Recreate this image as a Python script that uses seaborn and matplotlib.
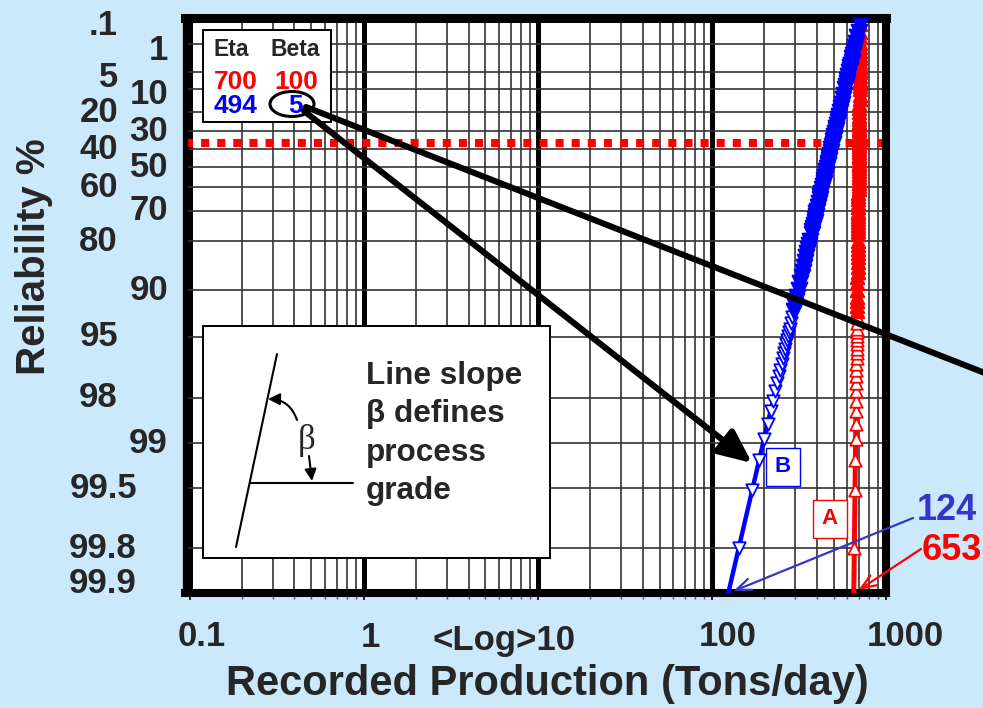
import numpy as np
import pandas as pd
import matplotlib
matplotlib.use("Agg")
import matplotlib.pyplot as plt
import seaborn as sns
from matplotlib.patches import Rectangle, Ellipse, FancyArrowPatch, ArrowStyle
from matplotlib.lines import Line2D
from matplotlib.ticker import FixedLocator, LogLocator, NullFormatter

# ---------------------------------------------------------------- data
process = ["A", "B"]
eta = [700, 494]            # characteristic production (tons/day)
beta = [100, 5]             # Weibull shape
low_end = [653, 124]        # production at 99.9 % reliability

# reliability (%) of each plotted day, shared by both processes
reliability_pct = [99.80, 99.51, 99.23, 98.94, 98.66, 98.37, 98.09, 97.80, 97.52, 97.23,
                   96.95, 96.66, 96.38, 96.09, 95.80, 95.52, 95.23, 94.95, 94.66, 94.38,
                   93.81, 93.24, 92.67, 92.09, 91.52,
                   91, 90, 89, 88, 87, 86, 85, 84, 83, 82, 81, 80,
                   78, 77, 76, 75, 74, 73, 72, 71, 70,
                   68.5, 67, 65.5, 64, 62.5, 61, 59.5, 58, 56.5, 55, 53.5, 52, 50.5, 49,
                   47.5, 46, 44.5, 43, 41.5, 40, 38.5, 37, 35.5, 34, 32.5, 31, 29.5, 28,
                   26.5, 25, 23.5, 22,
                   20, 18, 16, 14, 12,
                   10, 9, 8, 7, 6, 5,
                   4.5, 4, 3.5, 3, 2.5, 2,
                   1.6, 1.2, 0.9, 0.6, 0.4, 0.2]

prod_a = [657.8, 663.8, 666.8, 668.9, 670.5, 671.8, 672.9, 673.9, 674.7, 675.4,
          676.1, 676.7, 677.3, 677.8, 678.3, 678.8, 679.2, 679.6, 680.0, 680.3,
          681.0, 681.6, 682.2, 682.8, 683.2,
          683.7, 684.4, 685.1, 685.8, 686.3, 686.9, 687.4, 687.9, 688.3, 688.8, 689.2, 689.6,
          690.3, 690.7, 691.0, 691.3, 691.6, 692.0, 692.3, 692.5, 692.8,
          693.2, 693.6, 694.0, 694.4, 694.7, 695.1, 695.4, 695.8, 696.1, 696.4, 696.7,
          697.0, 697.3, 697.6,
          697.9, 698.2, 698.5, 698.8, 699.1, 699.4, 699.7, 700.0, 700.2, 700.5, 700.8,
          701.1, 701.4, 701.7,
          702.0, 702.3, 702.6, 702.9,
          703.3, 703.8, 704.3, 704.7, 705.3,
          705.9, 706.2, 706.5, 706.9, 707.3, 707.7,
          708.0, 708.2, 708.5, 708.8, 709.2, 709.6,
          710.0, 710.5, 710.9, 711.5, 712.1, 712.9]

prod_b = [142.6, 170.6, 186.8, 199.2, 208.8, 217.2, 224.3, 230.8, 236.4, 241.8,
          246.6, 251.2, 255.3, 259.4, 263.2, 266.7, 270.1, 273.3, 276.4, 279.4,
          285.0, 290.2, 295.2, 299.9, 304.3,
          308.1, 315.0, 321.4, 327.4, 333.1, 338.4, 343.5, 348.4, 353.0, 357.5, 361.8, 366.0,
          373.9, 377.7, 381.4, 385.1, 388.6, 392.0, 395.4, 398.7, 402.0,
          406.7, 411.4, 415.9, 420.4, 424.8, 429.1, 433.3, 437.5, 441.6, 445.7, 449.8,
          453.8, 457.8, 461.7,
          465.7, 469.6, 473.6, 477.5, 481.5, 485.5, 489.4, 493.4, 497.5, 501.6, 505.7,
          509.9, 514.1, 518.4,
          522.8, 527.4, 532.0, 536.7,
          543.3, 550.3, 557.6, 565.5, 574.1,
          583.7, 589.0, 594.6, 600.7, 607.5, 615.2,
          619.5, 624.1, 629.2, 634.9, 641.4, 648.9,
          656.2, 665.1, 673.5, 684.7, 695.2, 711.9]

grid_pct = [1, 5, 10, 20, 30, 40, 50, 60, 70, 80, 90, 95, 98, 99, 99.5, 99.8]
ylab_left = [".1", "5", "20", "40", "60", "80", "95", "98"]
ylab_left_val = [0.1, 5, 20, 40, 60, 80, 95, 98]
ylab_mid = ["99.5", "99.8", "99.9"]
ylab_mid_val = [99.5, 99.8, 99.9]
ylab_right = ["1", "10", "30", "50", "70", "90", "99"]
ylab_right_val = [1, 10, 30, 50, 70, 90, 99]
x_major = [0.1, 1, 10, 100, 1000]
x_labels = ["0.1", "1", "<Log>10", "100", "1000"]

# ---------------------------------------------------------------- style
W, H = 983, 708
BG = "#cce9fc"
BLUE = "#0000ff"
RED = "#ff0000"
LABEL_BLUE = "#3535c8"
GRID = "#333333"

sns.set_theme(style="white")
plt.rcParams["font.family"] = ["Liberation Sans", "DejaVu Sans"]
plt.rcParams["font.weight"] = "bold"

fig = plt.figure(figsize=(W / 100, H / 100), dpi=100)
fig.patch.set_facecolor(BG)


def fp(x, y):
    """pixel position (from top-left) -> figure fraction"""
    return (x / W, 1 - y / H)


ax_left, ax_right, ax_top, ax_bottom = 185, 886, 17.6, 593.3
ax = fig.add_axes([ax_left / W, 1 - ax_bottom / H,
                   (ax_right - ax_left) / W, (ax_bottom - ax_top) / H])
ax.set_facecolor("white")


# Weibull probability scale for reliability (%)
def weib(p):
    p = np.clip(np.asarray(p, dtype=float), 1e-9, 100 - 1e-9)
    return np.log(-np.log(p / 100.0))


def weib_inv(y):
    return 100.0 * np.exp(-np.exp(np.asarray(y, dtype=float)))


Y_LIM = (0.1, 99.9)
X_LIM = (0.094, 1000)

ax.set_xscale("log")
ax.set_yscale("function", functions=(weib, weib_inv))
ax.set_xlim(*X_LIM)
ax.set_ylim(*Y_LIM)

ax.xaxis.set_major_locator(FixedLocator(x_major))
ax.xaxis.set_minor_locator(LogLocator(base=10, subs=np.arange(2, 10), numticks=50))
ax.xaxis.set_major_formatter(NullFormatter())
ax.xaxis.set_minor_formatter(NullFormatter())
ax.yaxis.set_major_locator(FixedLocator(grid_pct))
ax.yaxis.set_major_formatter(NullFormatter())
ax.yaxis.set_minor_locator(FixedLocator([]))

ax.set_axisbelow(True)
ax.grid(which="major", axis="x", color="black", lw=3.6)
ax.grid(which="minor", axis="x", color=GRID, lw=1.2)
ax.grid(which="major", axis="y", color=GRID, lw=1.2)

ax.tick_params(axis="y", length=0)
ax.tick_params(axis="x", which="major", direction="out", length=5, width=1.2, color="black", bottom=True)
ax.tick_params(axis="x", which="minor", direction="out", length=4, width=1.0, color="#555555", bottom=True)

for side, lw in [("left", 3.8), ("top", 6.5), ("right", 5.8), ("bottom", 5.8)]:
    ax.spines[side].set_visible(True)
    ax.spines[side].set_color("black")
    ax.spines[side].set_linewidth(lw)

# characteristic-life line (63.2 % failed)
ax.axhline(100 * np.exp(-1), color=RED, lw=5.8, dashes=(1, 1),
           dash_capstyle="butt", zorder=1.5)

# ---------------------------------------------------------------- data marks
df = pd.DataFrame({
    "reliability": reliability_pct * 2,
    "production": prod_a + prod_b,
    "process": ["A"] * len(prod_a) + ["B"] * len(prod_b),
})
# where the days pile up the open markers overlap into a solid band
df["crowded"] = df["reliability"] < 93.0

colors = {"A": RED, "B": BLUE}
marks = {"A": "^", "B": "v"}
line_w = {"A": 3.6, "B": 3.2}
dense_size = {"A": 90, "B": 125}

end_pct = [99.9, 0.1]
for name, e, b in zip(process, eta, beta):
    fit_x = [e * (-np.log(p / 100.0)) ** (1.0 / b) for p in end_pct]
    sns.lineplot(x=fit_x, y=end_pct, ax=ax, color=colors[name], lw=line_w[name],
                 sort=False, estimator=None, zorder=3)
    sub = df[df["process"] == name]
    sparse = sub[~sub["crowded"]]
    dense = sub[sub["crowded"]]
    sns.scatterplot(data=sparse, x="production", y="reliability", ax=ax,
                    marker=marks[name], s=80, facecolor="white",
                    edgecolor=colors[name], linewidth=1.3, zorder=4)
    sns.scatterplot(data=dense, x="production", y="reliability", ax=ax,
                    marker=marks[name], s=dense_size[name], facecolor=colors[name],
                    edgecolor=colors[name], linewidth=1.6, zorder=4)

ax.set_xlabel("")
ax.set_ylabel("")
ax.set_xlim(*X_LIM)
ax.set_ylim(*Y_LIM)

# ---------------------------------------------------------------- tick labels
TICK_FS = 25
ytr = ax.get_yaxis_transform()
nudge = {".1": -6, "1": -5, "5": -4, "10": -4, "99.9": 7}
for labs, vals, xr in [(ylab_left, ylab_left_val, 118),
                       (ylab_mid, ylab_mid_val, 137),
                       (ylab_right, ylab_right_val, 168)]:
    for lab, v in zip(labs, vals):
        ax.annotate(lab, xy=((xr - ax_left) / (ax_right - ax_left), v), xycoords=ytr,
                    xytext=(0, nudge.get(lab, 0)), textcoords="offset points",
                    ha="right", va="center", fontsize=TICK_FS, fontweight="bold",
                    annotation_clip=False)

xtr = ax.get_xaxis_transform()
x_shift = [9, 5, 27, 11, 14]
x_drop = [-31, -32, -34, -31, -31]
x_ha = ["center", "center", "right", "center", "center"]
for lab, v, dx, dy, ha in zip(x_labels, x_major, x_shift, x_drop, x_ha):
    ax.annotate(lab, xy=(v, 0), xycoords=xtr, xytext=(dx, dy), textcoords="offset points",
                ha=ha, va="center", fontsize=TICK_FS, fontweight="bold",
                annotation_clip=False)

fig.text(*fp(34, 257), "Reliability %", rotation=90, ha="center", va="center",
         fontsize=29, fontweight="bold")
fig.text(*fp(547, 684), "Recorded Production (Tons/day)", ha="center", va="center",
         fontsize=30, fontweight="bold")

# ---------------------------------------------------------------- parameter box
fig.add_artist(Rectangle(fp(203, 122), 128 / W, 92 / H, transform=fig.transFigure,
                         facecolor="white", edgecolor="black", lw=1.4, zorder=10))
fig.text(*fp(231, 50), "Eta", ha="center", va="center", fontsize=16.5,
         fontweight="bold", zorder=11)
fig.text(*fp(295, 50), "Beta", ha="center", va="center", fontsize=16.5,
         fontweight="bold", zorder=11)
for row_y, i in [(82, 0), (106, 1)]:
    c = RED if process[i] == "A" else BLUE
    fig.text(*fp(236, row_y), str(eta[i]), ha="center", va="center",
             fontsize=19, fontweight="bold", color=c, zorder=11)
    fig.text(*fp(296, row_y), str(beta[i]), ha="center", va="center",
             fontsize=19, fontweight="bold", color=c, zorder=11)
fig.add_artist(Ellipse(fp(292, 104), 44 / W, 25 / H, transform=fig.transFigure,
                       facecolor="none", edgecolor="black", lw=2.2, zorder=12))

# pointer lines from the beta value
fig.add_artist(FancyArrowPatch(fp(306, 107), fp(995, 377), transform=fig.transFigure,
                               arrowstyle="-", lw=4.4, color="black", zorder=20,
                               shrinkA=0, shrinkB=0))
fig.add_artist(FancyArrowPatch(fp(304, 111), fp(752, 463), transform=fig.transFigure,
                               arrowstyle=ArrowStyle("-|>", head_length=20, head_width=9),
                               mutation_scale=1, lw=4.4, color="black", zorder=20,
                               shrinkA=0, shrinkB=0))

# ---------------------------------------------------------------- slope sketch box
fig.add_artist(Rectangle(fp(203, 558), 347 / W, 232 / H, transform=fig.transFigure,
                         facecolor="white", edgecolor="black", lw=1.4, zorder=10))


def seg(p0, p1, lw=1.5):
    fig.add_artist(Line2D([fp(*p0)[0], fp(*p1)[0]], [fp(*p0)[1], fp(*p1)[1]],
                          transform=fig.transFigure, color="black", lw=lw, zorder=11))


seg((277, 354), (236, 547))
seg((250, 483), (353, 483))
fig.add_artist(FancyArrowPatch(fp(297, 420), fp(268, 399), transform=fig.transFigure,
                               connectionstyle="arc3,rad=0.35",
                               arrowstyle=ArrowStyle("-|>", head_length=7, head_width=3.5),
                               mutation_scale=1, lw=1.5, color="black", zorder=11,
                               shrinkA=0, shrinkB=0))
fig.add_artist(FancyArrowPatch(fp(309, 456), fp(312, 481), transform=fig.transFigure,
                               arrowstyle=ArrowStyle("-|>", head_length=7, head_width=3.5),
                               mutation_scale=1, lw=1.5, color="black", zorder=11,
                               shrinkA=0, shrinkB=0))
fig.text(*fp(307, 440), "β", ha="center", va="center", fontsize=25,
         fontweight="normal", family=["Liberation Serif", "DejaVu Serif"], zorder=11)
fig.text(*fp(366, 361), "Line slope\nβ defines\nprocess\ngrade", ha="left", va="top",
         fontsize=22.7, fontweight="bold", linespacing=1.36, zorder=11)

# ---------------------------------------------------------------- process tags and end values
fig.text(*fp(783, 467), "B", ha="center", va="center", fontsize=16, fontweight="bold",
         color=BLUE, zorder=11,
         bbox=dict(boxstyle="square,pad=0.4", fc="white", ec=BLUE, lw=1.0))
fig.text(*fp(830, 519), "A", ha="center", va="center", fontsize=16, fontweight="bold",
         color=RED, zorder=11,
         bbox=dict(boxstyle="square,pad=0.4", fc="white", ec=RED, lw=1.0))

for i, (tx, ty, c) in [(1, (947, 511, LABEL_BLUE)), (0, (952, 550, RED))]:
    fig.text(*fp(tx, ty), str(low_end[i]), ha="center", va="center",
             fontsize=26, fontweight="bold", color=c, zorder=11)
    start = (913, 518) if i == 1 else (921, 549)
    ax.annotate("", xy=(low_end[i], 99.9), xycoords="data",
                xytext=fp(*start), textcoords="figure fraction",
                arrowprops=dict(arrowstyle="->,head_length=0.9,head_width=0.35",
                                color=c, lw=1.6, shrinkA=0, shrinkB=4),
                annotation_clip=False, zorder=11)

fig.savefig("out.png", dpi=100, facecolor=BG)
